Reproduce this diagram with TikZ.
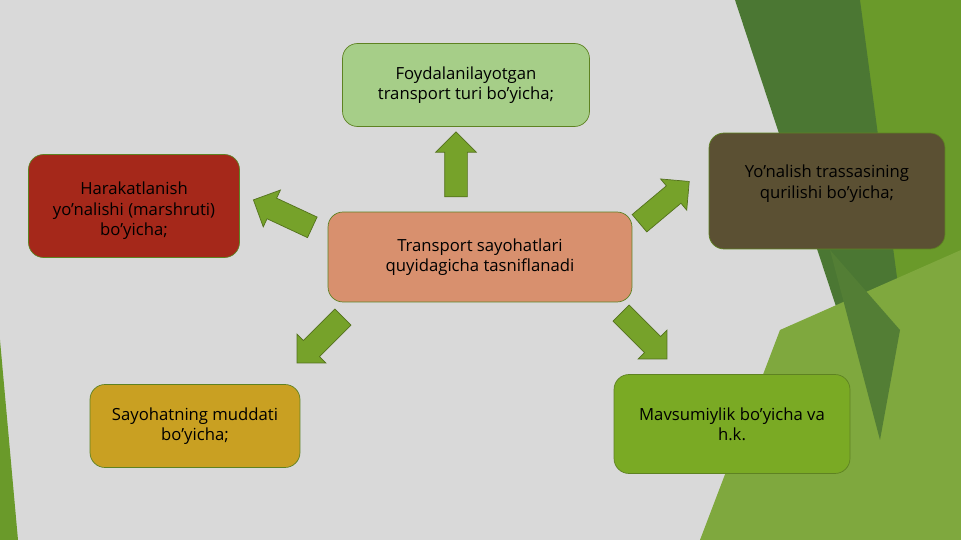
\documentclass[tikz,border=0pt]{standalone}
\usepackage{fontspec}
\setmainfont{Open Sans}
\usetikzlibrary{shapes.arrows}
\definecolor{bggray}{HTML}{D9D9D9}
\definecolor{darkgr}{HTML}{4B7733}
\definecolor{midgr}{HTML}{6A9A2A}
\definecolor{ligr}{HTML}{7FA83E}
\definecolor{arrgr}{HTML}{76A22A}
\definecolor{turifill}{HTML}{A6CE88}
\definecolor{mainfill}{HTML}{D8906E}
\definecolor{marshfill}{HTML}{A5281A}
\definecolor{trassfill}{HTML}{5B5033}
\definecolor{muddfill}{HTML}{C9A022}
\definecolor{mavsfill}{HTML}{7AAA24}
\tikzset{
  box/.style={draw=arrgr!80!black, rounded corners=0.3cm, align=center, inner sep=0pt,
    font=\fontsize{9.5}{11.5}\selectfont},
  blk/.style={single arrow, draw=arrgr!70!black, fill=arrgr, minimum height=1.3cm,
    inner xsep=0pt, inner ysep=0.22cm, single arrow head extend=0.18cm}
}
\begin{document}
\begin{tikzpicture}[x=0.02cm,y=-0.02cm]
\fill[bggray] (0,0) rectangle (961,540);
% background shapes
\fill[midgr] (860,0) -- (961,0) -- (961,540) -- (700,540) -- (870,330) -- cycle;
\fill[darkgr] (735,0) -- (860,0) -- (900,300) -- (880,440) -- cycle;
\fill[ligr] (780,330) -- (961,250) -- (961,540) -- (700,540) -- cycle;
\fill[darkgr!85!ligr] (830,250) -- (880,440) -- (900,330) -- cycle;
\fill[midgr] (0,340) -- (18,540) -- (0,540) -- cycle;
% boxes
\node[box, fill=turifill, minimum width=4.94cm, minimum height=1.66cm] (turi) at (466,85)
  {Foydalanilayotgan\\transport turi bo’yicha;};
\node[box, fill=mainfill, minimum width=6.08cm, minimum height=1.8cm] (main) at (480,257)
  {Transport sayohatlari\\quyidagicha tasniflanadi};
\node[box, fill=marshfill, minimum width=4.22cm, minimum height=2.06cm] (marsh) at (134,206) {};
\node[font=\fontsize{9.5}{11.5}\selectfont, align=center, anchor=north] (marshT) at (134,176)
  {Harakatlanish\\yo’nalishi (marshruti)\\bo’yicha;};
\node[box, fill=trassfill, minimum width=4.72cm, minimum height=2.32cm] (trass) at (827,191) {};
\node[font=\fontsize{9.5}{11.5}\selectfont, align=center, anchor=north] (trassT) at (827,159)
  {Yo’nalish trassasining\\qurilishi bo’yicha;};
\node[box, fill=muddfill, minimum width=4.2cm, minimum height=1.66cm] (mudd) at (195,426)
  {Sayohatning muddati\\bo’yicha;};
\node[box, fill=mavsfill, minimum width=4.72cm, minimum height=1.98cm] (mavs) at (732,424)
  {Mavsumiylik bo’yicha va\\h.k.};
% arrows
\node[blk, rotate=90] (aUp) at (456,170) {};
\node[blk, rotate=155] (aL) at (288,216) {};
\node[blk, rotate=40] (aUR) at (660,206) {};
\node[blk, rotate=225] (aDL) at (324,336) {};
\node[blk, rotate=-45] (aDR) at (640,332) {};
\end{tikzpicture}
\end{document}
